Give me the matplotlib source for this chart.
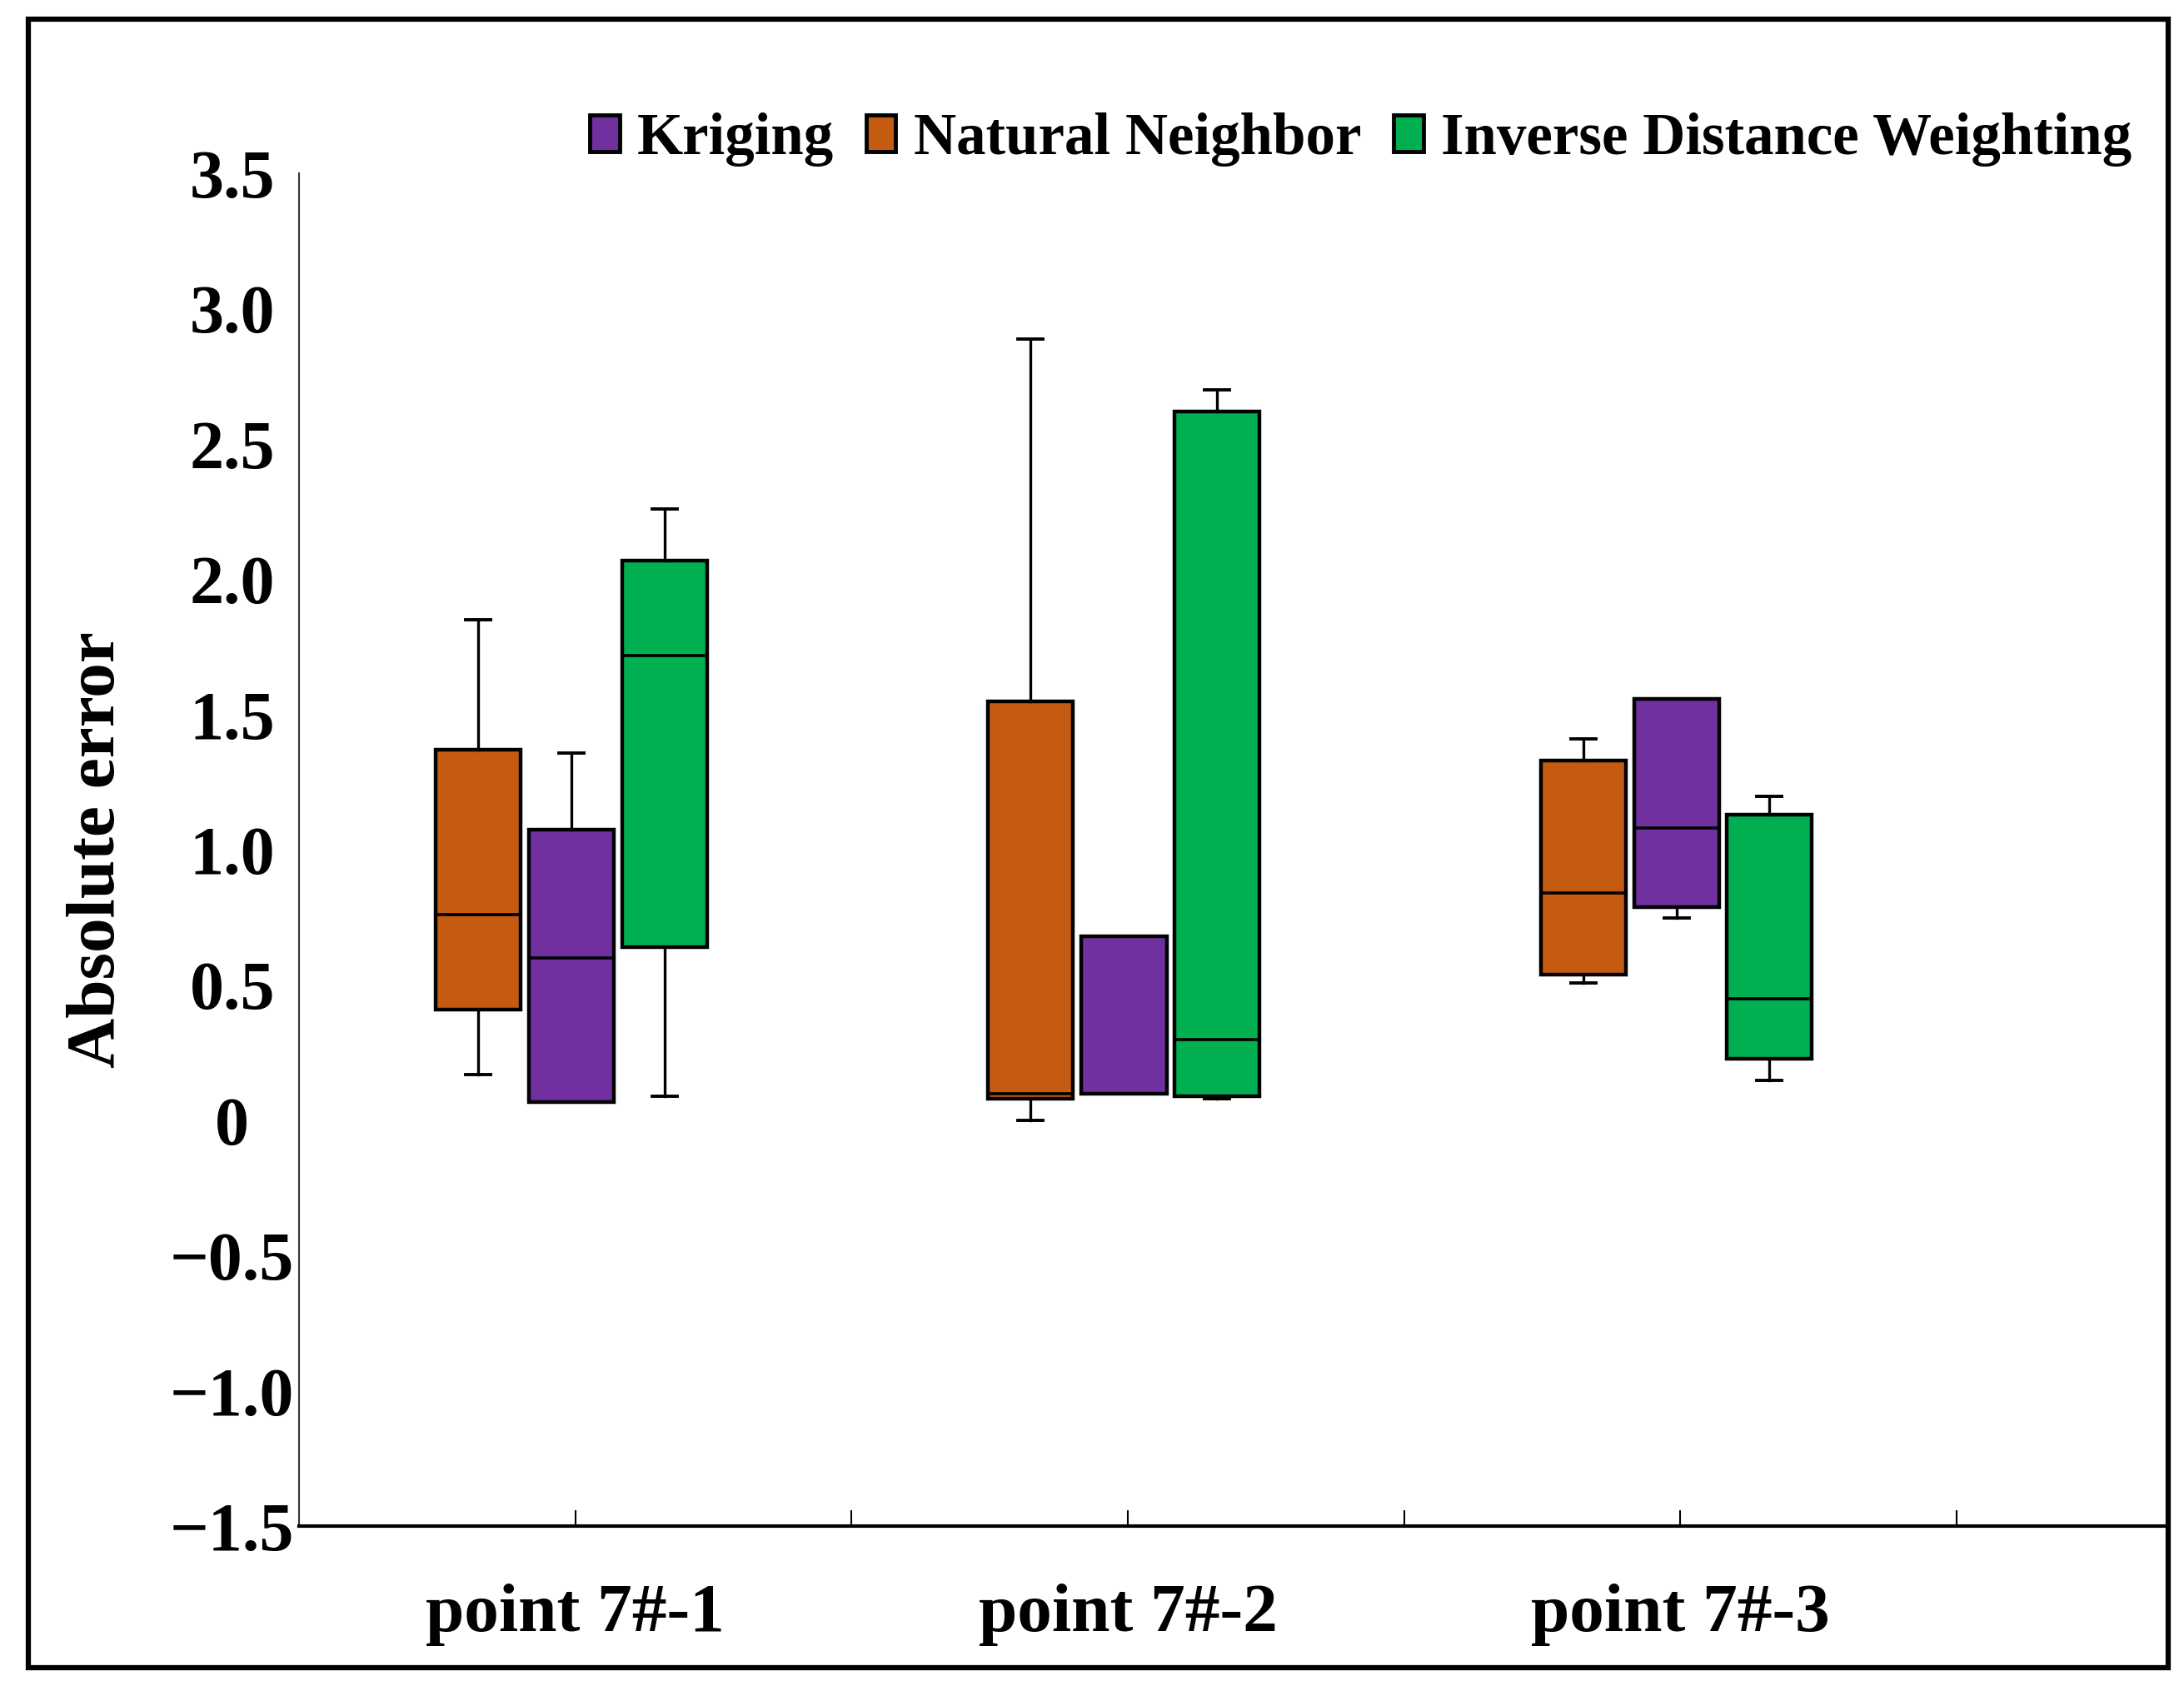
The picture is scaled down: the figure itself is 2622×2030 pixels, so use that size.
import matplotlib
matplotlib.use("Agg")
import matplotlib.pyplot as plt
from matplotlib.patches import Patch, Rectangle

plt.rcParams["font.family"] = ["Liberation Serif", "DejaVu Serif"]
plt.rcParams["font.weight"] = "bold"

# data
points = ["point 7#-1", "point 7#-2", "point 7#-3"]
methods = ["Natural Neighbor", "Kriging", "Inverse Distance Weighting"]
colors = ["#C55A11", "#7030A0", "#00B050"]

# per method: values for the three points
nn_q1 = [0.41, 0.08, 0.54]
nn_med = [0.76, 0.10, 0.84]
nn_q3 = [1.37, 1.55, 1.33]
nn_lo = [0.17, 0.00, 0.51]
nn_hi = [1.85, 2.89, 1.41]

kr_q1 = [0.07, 0.10, 0.79]
kr_med = [0.60, 0.10, 1.08]
kr_q3 = [1.075, 0.68, 1.56]
kr_lo = [0.07, 0.10, 0.75]
kr_hi = [1.36, 0.68, 1.56]

idw_q1 = [0.64, 0.09, 0.23]
idw_med = [1.72, 0.30, 0.45]
idw_q3 = [2.07, 2.62, 1.13]
idw_lo = [0.09, 0.08, 0.15]
idw_hi = [2.26, 2.70, 1.20]

series = [
    (nn_q1, nn_med, nn_q3, nn_lo, nn_hi),
    (kr_q1, kr_med, kr_q3, kr_lo, kr_hi),
    (idw_q1, idw_med, idw_q3, idw_lo, idw_hi),
]

fig = plt.figure(figsize=(26.22, 20.30), dpi=100)
ax = fig.add_axes([0.137, 0.0973, 0.855, 0.80])

offsets = [-0.176, -0.007, 0.161]
for (q1, med, q3, lo, hi), off, col in zip(series, offsets, colors):
    stats = []
    for i in range(len(points)):
        stats.append(dict(q1=q1[i], med=med[i], q3=q3[i],
                          whislo=lo[i], whishi=hi[i], fliers=[]))
    pos = [i + 1 + off for i in range(len(points))]
    ax.bxp(stats, positions=pos, widths=0.154, patch_artist=True,
           showfliers=False, capwidths=0.045,
           boxprops=dict(facecolor=col, edgecolor="black", linewidth=3.2),
           medianprops=dict(color="black", linewidth=2.6),
           whiskerprops=dict(color="black", linewidth=2.4),
           capprops=dict(color="black", linewidth=2.8))

ax.set_xlim(0.5, 3.88)
ax.set_ylim(-1.5, 3.5)

ax.set_xticks([1, 2, 3])
ax.set_xticklabels(points)
ax.set_xticks([1.5, 2.5, 3.5], minor=True)
ax.tick_params(axis="x", which="both", direction="in", length=14, width=1.5)
ax.tick_params(axis="x", which="major", labelsize=60, pad=49)

yt = [-1.5, -1.0, -0.5, 0, 0.5, 1.0, 1.5, 2.0, 2.5, 3.0, 3.5]
ax.set_yticks(yt)
ax.set_yticklabels(["\u22121.5", "\u22121.0", "\u22120.5", "0", "0.5", "1.0",
                    "1.5", "2.0", "2.5", "3.0", "3.5"])
ax.tick_params(axis="y", length=0, labelsize=59, pad=58)
for lab in ax.get_yticklabels():
    lab.set_horizontalalignment("center")

ax.set_ylabel("Absolute error", fontsize=60, fontweight="bold")
ax.yaxis.set_label_coords(-0.108, 0.5)
ax.yaxis.label.set_va("center")

for s in ["top", "right"]:
    ax.spines[s].set_visible(False)
ax.spines["left"].set_linewidth(1.5)
ax.spines["left"].set_color("#333333")
ax.spines["bottom"].set_linewidth(3)

handles = [Patch(facecolor=colors[1], edgecolor="black", linewidth=3.5, label="Kriging"),
           Patch(facecolor=colors[0], edgecolor="black", linewidth=3.5, label="Natural Neighbor"),
           Patch(facecolor=colors[2], edgecolor="black", linewidth=3.5, label="Inverse Distance Weighting")]
fig.legend(handles=handles, loc="center right", bbox_to_anchor=(0.976, 0.9175),
           ncol=3, frameon=False, fontsize=51, handlelength=0.5, handleheight=0.6,
           handletextpad=0.3, columnspacing=0.55, borderpad=0, borderaxespad=0)

fig.patches.append(Rectangle((0.0128, 0.014), 0.98, 0.9745, transform=fig.transFigure,
                             fill=False, edgecolor="black", linewidth=4.5))

fig.savefig("out.png", dpi=100)
